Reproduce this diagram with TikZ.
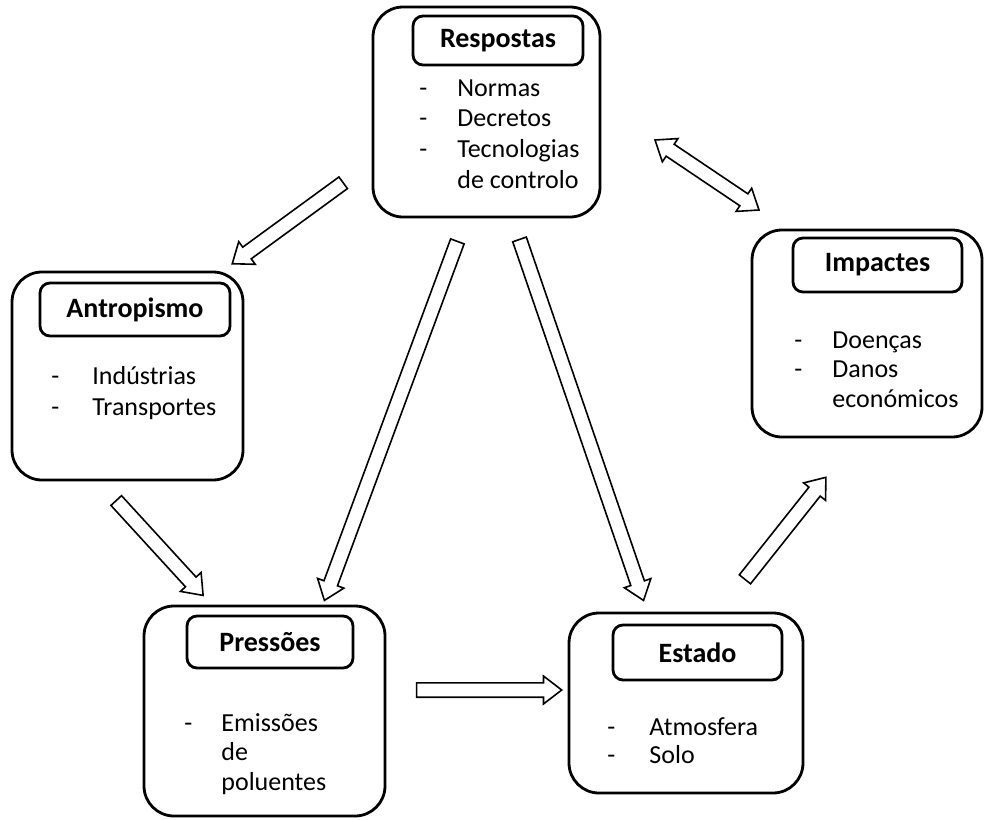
\documentclass[tikz,border=0pt]{standalone}
\usepackage{fontspec}
\setmainfont{Carlito}
\usetikzlibrary{calc,shapes.arrows}

% hollow block arrow from #2 (tail) to #3 (tip)
\newcommand{\flowarrow}[3][single arrow]{%
  \path let \p1=($(#3)-(#2)$), \n1={atan2(\y1,\x1)}, \n2={veclen(\x1,\y1)} in
    node[blockarr, #1, minimum height=\n2, rotate=\n1] at ($(#2)!0.5!(#3)$) {};}

\begin{document}
\begin{tikzpicture}[x=0.5pt,y=-0.5pt,font=\fontsize{13}{15}\selectfont,
    outerbox/.style={draw, line width=1.4pt, rounded corners=15pt, inner sep=0pt},
    titlebox/.style={draw, line width=1.4pt, rounded corners=5pt, inner sep=0pt, font=\fontsize{14}{16}\selectfont\bfseries},
    item/.style={anchor=base west, inner sep=0pt},
    blockarr/.style={draw, fill=white, line width=0.8pt, inner xsep=0pt, inner ysep=3.2pt,
      minimum width=0pt, single arrow head extend=3.4pt, double arrow head extend=3.4pt,
      single arrow tip angle=75, double arrow tip angle=75}]
  \useasboundingbox (0,0) rectangle (984,819);

  % Respostas
  \node[outerbox, minimum width=113.5pt, minimum height=105pt] (resp) at (486.5,112) {};
  \node[titlebox, minimum width=85pt, minimum height=24.5pt] (respT) at (498,40.5) {Respostas};
  \node[item] (respd1) at (419,96) {-};
  \node[item] (respd2) at (419,126) {-};
  \node[item] (respd3) at (419,157) {-};
  \node[item] (resp1) at (457,96) {Normas};
  \node[item] (resp2) at (457,126) {Decretos};
  \node[item] (resp3) at (457,157) {Tecnologias};
  \node[item] (resp4) at (457,188) {de controlo};

  % Antropismo
  \node[outerbox, minimum width=115.5pt, minimum height=104pt] (antr) at (127.5,376) {};
  \node[titlebox, minimum width=95pt, minimum height=26.5pt] (antrT) at (135,309.5) {Antropismo};
  \node[item] (antrd1) at (51,384) {-};
  \node[item] (antrd2) at (51,415) {-};
  \node[item] (antr1) at (92,384) {Indústrias};
  \node[item] (antr2) at (92,415) {Transportes};

  % Impactes
  \node[outerbox, minimum width=115pt, minimum height=103.5pt] (impa) at (867,333.5) {};
  \node[titlebox, minimum width=84.5pt, minimum height=27pt] (impaT) at (877.5,265) {Impactes};
  \node[item] (impad1) at (794,348) {-};
  \node[item] (impad2) at (794,377) {-};
  \node[item] (impa1) at (832,348) {Doenças};
  \node[item] (impa2) at (832,377) {Danos};
  \node[item] (impa3) at (832,407) {económicos};

  % Pressoes
  \node[outerbox, minimum width=120.5pt, minimum height=105pt] (pres) at (264.5,711) {};
  \node[titlebox, minimum width=83pt, minimum height=26pt] (presT) at (270,642) {Pressões};
  \node[item] (presd1) at (184,731) {-};
  \node[item] (pres1) at (221,731) {Emissões};
  \node[item] (pres2) at (221,760) {de};
  \node[item] (pres3) at (221,790) {poluentes};

  % Estado
  \node[outerbox, minimum width=117pt, minimum height=90pt] (esta) at (686,703) {};
  \node[titlebox, minimum width=84.5pt, minimum height=27.5pt] (estaT) at (697.5,652.5) {Estado};
  \node[item] (estad1) at (607,735) {-};
  \node[item] (estad2) at (607,763) {-};
  \node[item] (esta1) at (649,735) {Atmosfera};
  \node[item] (esta2) at (649,763) {Solo};

  % arrow ends
  \coordinate (ra) at (347,180);   \coordinate (ar) at (236,261);
  \coordinate (ri) at (655,140);   \coordinate (ir) at (759,210);
  \coordinate (pe) at (412,690);   \coordinate (ep) at (557,690);
  \coordinate (ap) at (113,497);   \coordinate (pa) at (200,592);
  \coordinate (rp) at (459,237);   \coordinate (pr) at (326,596);
  \coordinate (re) at (518,235);   \coordinate (er) at (642,596);
  \coordinate (ei) at (742,583);   \coordinate (ie) at (823,481);

  \flowarrow{ra}{ar}
  \flowarrow[double arrow]{ri}{ir}
  \flowarrow{pe}{ep}
  \flowarrow{ap}{pa}
  \flowarrow{rp}{pr}
  \flowarrow{re}{er}
  \flowarrow{ei}{ie}
\end{tikzpicture}
\end{document}
